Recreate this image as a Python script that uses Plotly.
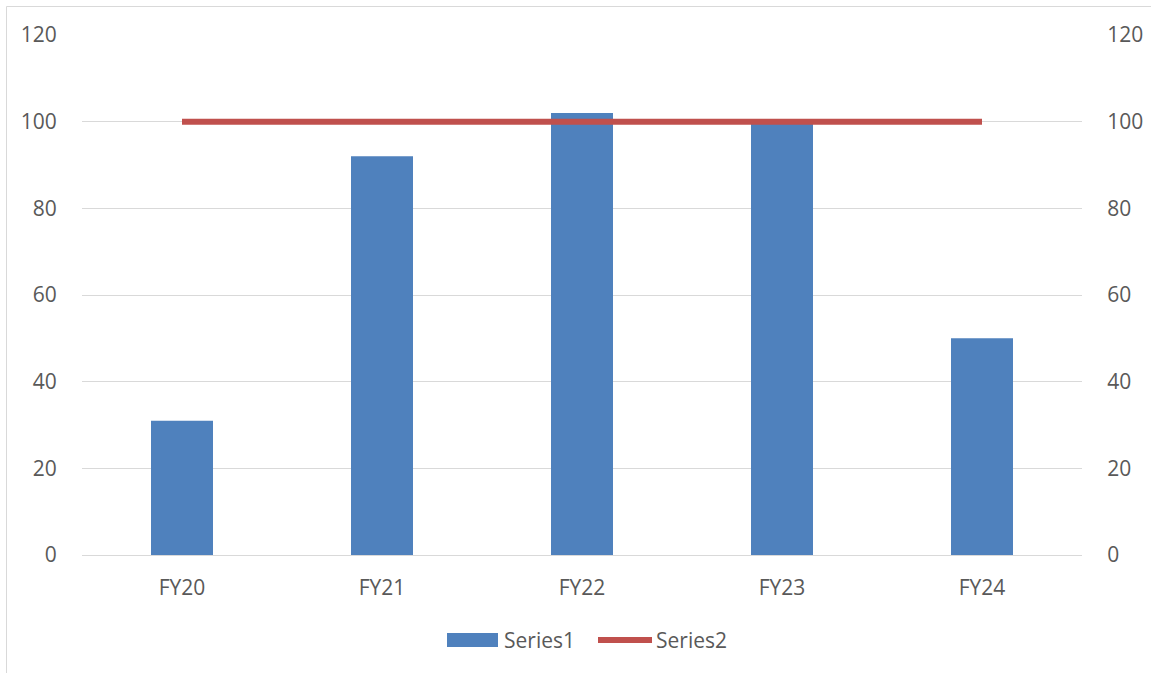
import plotly.graph_objects as go

categories = ["FY20", "FY21", "FY22", "FY23", "FY24"]
series1 = [31, 92, 102, 100, 50]
series2 = [100, 100, 100, 100, 100]
y_ticks = [0, 20, 40, 60, 80, 100, 120]

BLUE = "#4F81BD"
RED = "#C0504D"
TXT = "#595959"
GRID = "#D9D9D9"
FONT = "Open Sans"
FS = 21

W, H = 1151, 673
L, R, T, B = 82, 1151 - 1082, 35, 673 - 555
pw, ph = W - L - R, H - T - B

def px(x):
    return (x - L) / pw

def py(y):
    return (H - B - y) / ph

fig = go.Figure()
fig.add_trace(go.Bar(x=categories, y=series1, name="Series1", marker=dict(color=BLUE, line=dict(width=0)),
                     yaxis="y", showlegend=False))
fig.add_trace(go.Scatter(x=categories, y=series2, name="Series2", mode="lines",
                         line=dict(color=RED, width=6), yaxis="y2", showlegend=False))

axis_common = dict(range=[0, 120], tickvals=y_ticks, ticktext=[str(v) for v in y_ticks],
                   showgrid=True, gridcolor=GRID, gridwidth=1, zeroline=False,
                   ticks="outside", ticklen=20, tickcolor="rgba(0,0,0,0)",
                   tickfont=dict(family=FONT, size=FS, color=TXT), automargin=False, fixedrange=True)

fig.update_layout(
    width=W, height=H,
    margin=dict(l=L, r=R, t=T, b=B),
    paper_bgcolor="white", plot_bgcolor="white",
    bargap=0.69,
    xaxis=dict(showgrid=False, showline=True, linecolor=GRID, linewidth=1,
               ticks="outside", ticklen=14, tickcolor="rgba(0,0,0,0)",
               tickfont=dict(family=FONT, size=FS, color=TXT), automargin=False),
    yaxis=dict(side="left", **axis_common),
    yaxis2=dict(side="right", overlaying="y", **axis_common),
    showlegend=False,
)

# chart border
fig.add_shape(type="rect", xref="paper", yref="paper",
              x0=px(6.5), x1=px(1170), y0=py(690), y1=py(6.5),
              line=dict(color=GRID, width=1), fillcolor="rgba(0,0,0,0)", layer="below")

# legend
fig.add_shape(type="rect", xref="paper", yref="paper",
              x0=px(447), x1=px(498), y0=py(647), y1=py(633),
              line=dict(width=0), fillcolor=BLUE)
fig.add_shape(type="line", xref="paper", yref="paper",
              x0=px(598), x1=px(652), y0=py(640), y1=py(640),
              line=dict(color=RED, width=6))
fig.add_annotation(text="Series1", xref="paper", yref="paper", x=px(502), y=py(640),
                   xanchor="left", yanchor="middle", showarrow=False,
                   font=dict(family=FONT, size=FS, color=TXT))
fig.add_annotation(text="Series2", xref="paper", yref="paper", x=px(654), y=py(640),
                   xanchor="left", yanchor="middle", showarrow=False,
                   font=dict(family=FONT, size=FS, color=TXT))

fig.write_html("out.html")
